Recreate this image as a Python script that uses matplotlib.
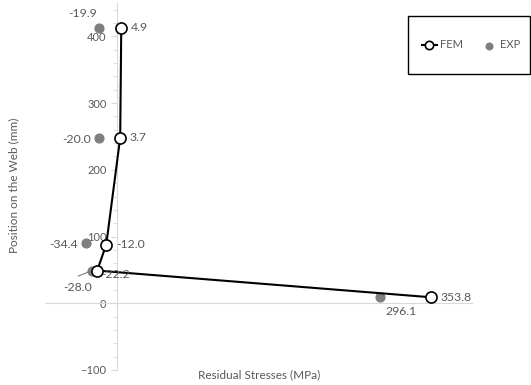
import numpy as np
import matplotlib.pyplot as plt
from matplotlib.patches import Rectangle
from matplotlib.ticker import MultipleLocator

plt.rcParams.update({"font.family": ["Lato", "DejaVu Sans"], "font.size": 9})

# data
fem_x = [353.8, -22.2, -12.0, 3.7, 4.9]
fem_y = [9, 49, 88, 248, 413]
exp_x = [296.1, -28.0, -34.4, -20.0, -19.9]
exp_y = [9, 49, 90, 248, 413]
fem_lbl = ["353.8", "-22.2", "-12.0", "3.7", "4.9"]
exp_lbl = ["296.1", "-28.0", "-34.4", "-20.0", "-19.9"]

GREY_TXT = "#595959"
GREY_AX = "#d9d9d9"

fig = plt.figure(figsize=(5.31, 3.85), dpi=100)
ax = fig.add_axes([45 / 531, 15 / 385, 427 / 531, 367 / 385])
ax.set_xlim(-81, 400)
ax.set_ylim(-100, 450)

for s in ["top", "right"]:
    ax.spines[s].set_visible(False)
ax.spines["left"].set_position(("data", 0))
ax.spines["bottom"].set_position(("data", 0))
ax.spines["left"].set_color(GREY_AX)
ax.spines["bottom"].set_color(GREY_AX)

ax.set_xticks([])
ax.yaxis.set_major_locator(MultipleLocator(100))
ax.yaxis.set_minor_locator(MultipleLocator(20))
ax.tick_params(axis="y", which="both", direction="out", color=GREY_AX,
               labelcolor=GREY_TXT, labelsize=8)
ax.tick_params(axis="y", which="major", length=4)
ax.tick_params(axis="y", which="minor", length=3)

ax.scatter(exp_x, exp_y, s=40, color="#7f7f7f", zorder=3, label="EXP")
ax.plot(fem_x, fem_y, color="black", lw=1.5, marker="o", ms=8,
        mfc="white", mec="black", mew=1.2, zorder=4, label="FEM")

kw = dict(textcoords="offset points", color=GREY_TXT, fontsize=8.8, va="center", zorder=5)
# FEM labels
ax.annotate(fem_lbl[0], (fem_x[0], fem_y[0]), xytext=(7, 0), ha="left", **kw)
ax.annotate(fem_lbl[1], (fem_x[1], fem_y[1]), xytext=(3, -3), ha="left", **kw)
for i in [2, 3, 4]:
    ax.annotate(fem_lbl[i], (fem_x[i], fem_y[i]), xytext=(7, 0), ha="left", **kw)
# EXP labels
ax.annotate(exp_lbl[0], (exp_x[0], exp_y[0]), xytext=(15, -10), ha="center", **kw)
ax.annotate(exp_lbl[1], (exp_x[1], exp_y[1]), xytext=(0, -12), ha="right", **kw)
ax.annotate("", (exp_x[1], exp_y[1]), xytext=(-10, -4), textcoords="offset points",
            arrowprops=dict(arrowstyle="-", color="#7f7f7f", lw=0.8, shrinkA=0, shrinkB=3))
for i in [2, 3]:
    ax.annotate(exp_lbl[i], (exp_x[i], exp_y[i]), xytext=(-6, -1), ha="right", **kw)
ax.annotate(exp_lbl[4], (exp_x[4], exp_y[4]), xytext=(-12, 10), ha="center", **kw)

# legend with Excel-like box
h, l = ax.get_legend_handles_labels()
fig.add_artist(Rectangle((408 / 531, 1 - 74 / 385), 122 / 531, 58 / 385,
                         transform=fig.transFigure, fill=False, ec="black", lw=1.0))
fig.legend(h[::-1], l[::-1], loc="center", bbox_to_anchor=(471 / 531, 1 - 45 / 385),
           ncol=2, frameon=False, fontsize=8, handlelength=1.4, columnspacing=1.6,
           handletextpad=0.3, markerscale=0.75, labelcolor=GREY_TXT)

fig.text(259 / 531, 1 - 375 / 385, "Residual Stresses (MPa)", ha="center", va="center",
         color=GREY_TXT, fontsize=8.5)
fig.text(14 / 531, 1 - 185 / 385, "Position on the Web (mm)", ha="center", va="center",
         rotation=90, color=GREY_TXT, fontsize=8.5)

fig.savefig("out.png", dpi=100)
